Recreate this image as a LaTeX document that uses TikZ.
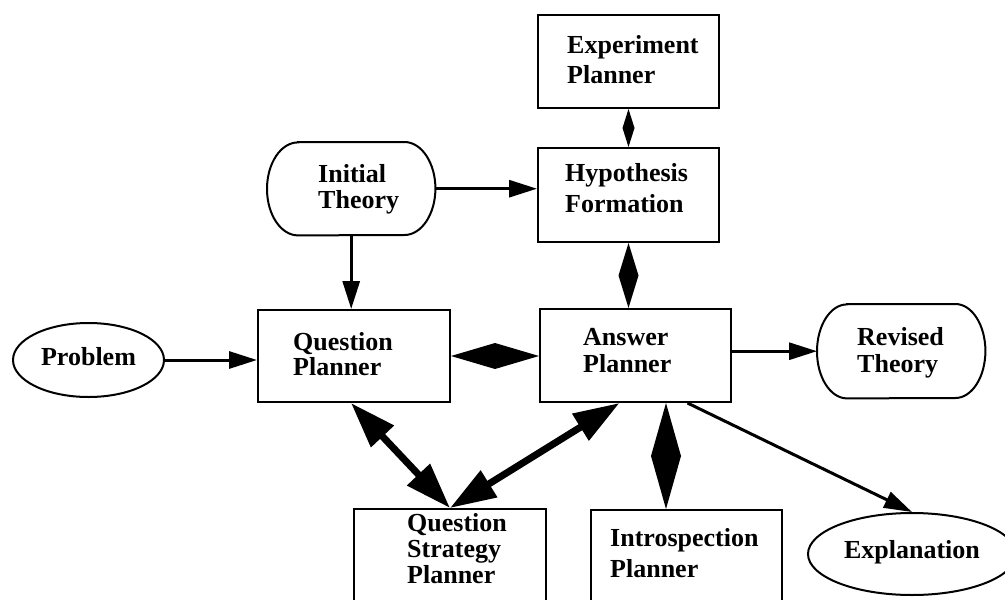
\documentclass[tikz,border=0pt]{standalone}
\usepackage{fontspec}
\setmainfont{Liberation Serif}
\usetikzlibrary{arrows.meta,calc,shapes.geometric}
\newcommand\lblfont[1]{\bfseries\fontsize{26}{#1}\selectfont}
\begin{document}
\begin{tikzpicture}[x=1pt,y=-1pt,
  box/.style={draw, line width=2pt, rectangle, inner sep=0pt, anchor=north west},
  plain/.style={rectangle, inner sep=0pt, anchor=north west},
  txt/.style={inner sep=0pt, align=left, anchor=base west},
  oval/.style={draw, line width=2pt, ellipse, inner sep=0pt, font={\lblfont{30}}},
  outline/.style={line width=2pt},
  arr/.style={line width=3pt, -{Triangle[length=28pt,width=17pt]}},
  dbl/.style={line width=7pt, {Triangle[length=46pt,width=30pt]}-{Triangle[length=46pt,width=30pt]}},
]
\useasboundingbox (0,0) rectangle (1005,600);
\clip (0,0) rectangle (1005,600);

% boxes
\node[box, minimum width=181pt, minimum height=93pt] (ep) at (537,14) {};
\node[box, minimum width=181pt, minimum height=94pt] (hf) at (537,147) {};
\node[plain, minimum width=168pt, minimum height=93pt] (it) at (267,142) {};
\node[box, minimum width=192pt, minimum height=92pt] (qp) at (257,309) {};
\node[box, minimum width=191pt, minimum height=93pt] (ap) at (539,308) {};
\node[plain, minimum width=168pt, minimum height=94pt] (rt) at (817,304) {};
\node[box, minimum width=192pt, minimum height=120pt] (qs) at (353,508) {};
\node[box, minimum width=191pt, minimum height=120pt] (ip) at (590,509) {};
\node[oval, minimum width=151pt, minimum height=74pt, text height=14pt, text depth=4pt] (pb) at (88.5,360) {Problem};
\node[oval, minimum width=208pt, minimum height=82pt, text height=12pt, text depth=4pt] (ex) at (912,554) {Explanation};

% stadium outlines
\draw[outline] ($(it.north west)+(31,0)$) -- ($(it.north east)+(-31,0)$)
  arc[start angle=90, end angle=-90, x radius=31pt, y radius=46.5pt]
  -- ($(it.south west)+(31,0)$)
  arc[start angle=270, end angle=90, x radius=31pt, y radius=46.5pt] -- cycle;
\draw[outline] ($(rt.north west)+(30,0)$) -- ($(rt.north east)+(-30,0)$)
  arc[start angle=90, end angle=-90, x radius=30pt, y radius=47pt]
  -- ($(rt.south west)+(30,0)$)
  arc[start angle=270, end angle=90, x radius=30pt, y radius=47pt] -- cycle;

% texts
\node[txt, text width=140pt, font={\lblfont{30}}] (ept) at (567,53) {Experiment\\Planner};
\node[txt, text width=132pt, font={\lblfont{31}}] (hft) at (565,181) {Hypothesis\\Formation};
\node[txt, text width=84pt, font={\lblfont{26}}] (itt) at (318,182) {Initial\\Theory};
\node[txt, text width=112pt, font={\lblfont{25}}] (qpt) at (293,350) {Question\\Planner};
\node[txt, text width=100pt, font={\lblfont{27}}] (apt) at (583,345) {Answer\\Planner};
\node[txt, text width=95pt, font={\lblfont{27}}] (rtt) at (857,345) {Revised\\Theory};
\node[txt, text width=112pt, font={\lblfont{26}}] (qst) at (407,531) {Question\\Strategy\\Planner};
\node[txt, text width=166pt, font={\lblfont{31}}] (ipt) at (610,546) {Introspection\\Planner};

% arrows
\draw[arr] (it.east) -- (it.east -| hf.west);
\draw[arr] (it.south) -- (it.south |- qp.north);
\draw[arr] (pb.east) -- (pb.east -| qp.west);
\draw[arr] (rt.west -| ap.east) -- (rt.west);
\draw[arr] ($(ap.south)+(52,0)$) -- (ex.north);
\draw[dbl] ($(qp.south)+(-3,0)$) -- (qs.north);
\draw[dbl] ($(ap.south)+(-16,0)$) -- (qs.north);

% diamonds
\coordinate (d1a) at (ep.south);
\coordinate (d1b) at (hf.north);
\fill (d1a) -- ($(d1a)!0.5!(d1b)+(6,0)$) -- (d1b) -- ($(d1a)!0.5!(d1b)+(-6,0)$) -- cycle;
\coordinate (d2a) at (hf.south);
\coordinate (d2b) at (hf.south |- ap.north);
\fill (d2a) -- ($(d2a)!0.5!(d2b)+(10,0)$) -- (d2b) -- ($(d2a)!0.5!(d2b)+(-10,0)$) -- cycle;
\coordinate (d3a) at (qp.east);
\coordinate (d3b) at (qp.east -| ap.west);
\fill (d3a) -- ($(d3a)!0.5!(d3b)+(0,13)$) -- (d3b) -- ($(d3a)!0.5!(d3b)+(0,-13)$) -- cycle;
\coordinate (d4a) at ($(ap.south)+(30.5,0)$);
\coordinate (d4b) at (d4a |- ip.north);
\fill (d4a) -- ($(d4a)!0.5!(d4b)+(15,0)$) -- (d4b) -- ($(d4a)!0.5!(d4b)+(-15,0)$) -- cycle;
\end{tikzpicture}
\end{document}
